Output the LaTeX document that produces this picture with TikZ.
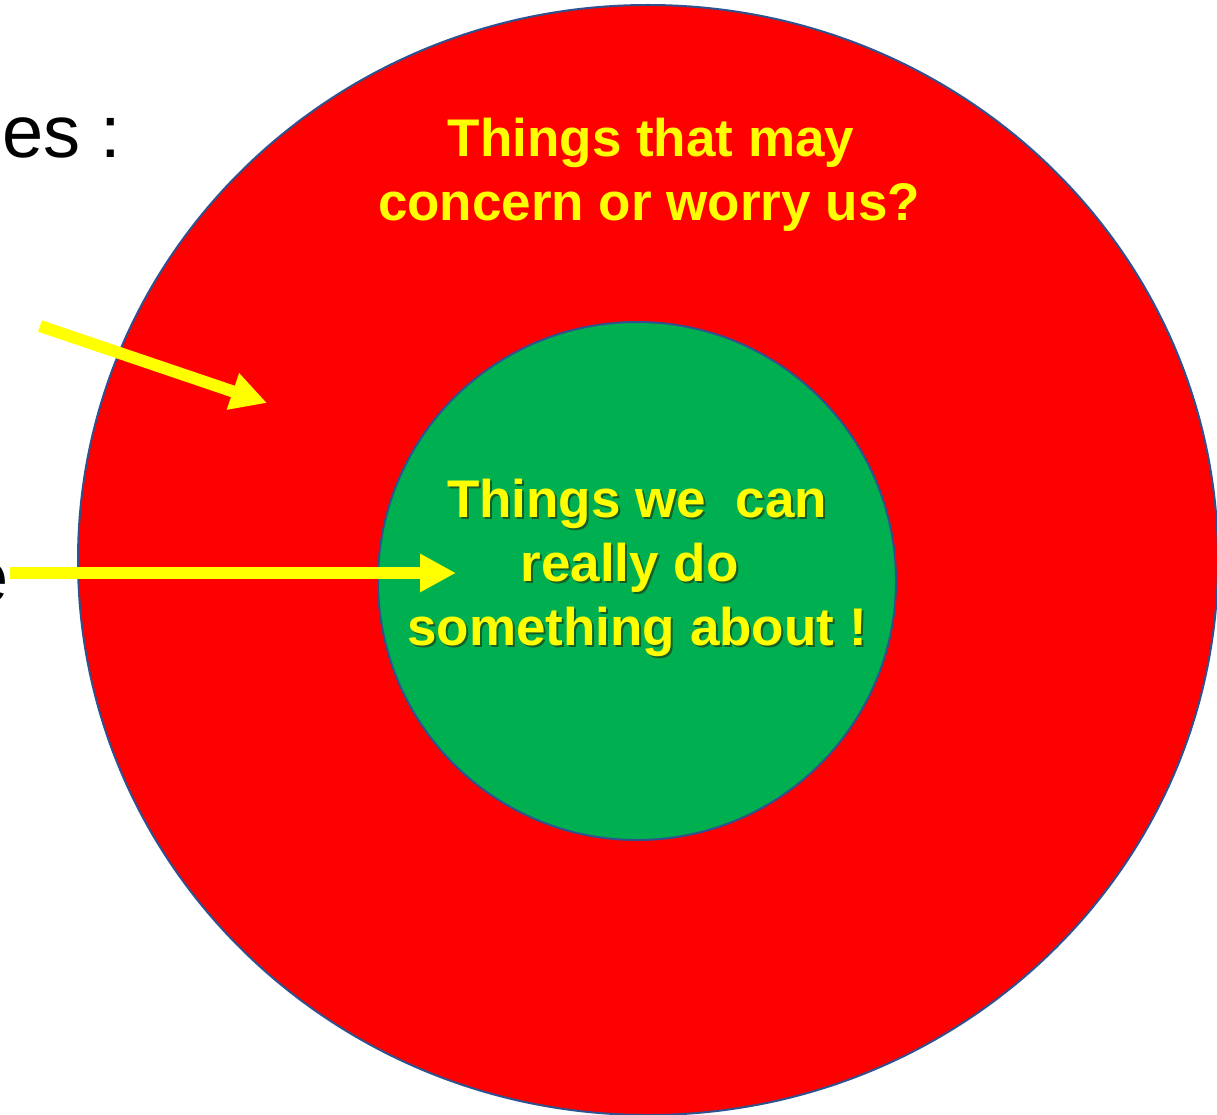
\documentclass[tikz,border=0pt]{standalone}
\usepackage{fontspec}
\setmainfont{Liberation Sans}
\usetikzlibrary{arrows.meta,shapes.geometric}
\definecolor{ringred}{RGB}{255,0,0}
\definecolor{coregreen}{RGB}{0,176,80}
\definecolor{edgeblue}{RGB}{47,82,143}
\definecolor{hiyellow}{RGB}{255,255,0}
\definecolor{shadegreen}{RGB}{20,95,40}
\newcommand\myshadowed[1]{\rlap{\hspace{2pt}\raisebox{-2pt}{\color{shadegreen}#1}}#1}
\begin{document}
\begin{tikzpicture}[x=1pt,y=-1pt,
  zone/.style={draw=edgeblue,line width=2pt,inner sep=0pt},
  bigtext/.style={text=hiyellow,font=\fontsize{53}{64}\selectfont\bfseries,anchor=base,inner sep=0pt},
  pointer/.style={draw=hiyellow,line width=12pt,-{Triangle[length=36pt,width=36pt]}},
  lefttext/.style={text=black,font=\fontsize{74}{88}\selectfont,inner sep=0pt}]
\useasboundingbox (0,0) rectangle (1217,1115);
\clip (0,0) rectangle (1217,1115);
% outer zone
\node[zone,fill=ringred,ellipse,minimum width=1140pt,minimum height=1110pt] (concern) at (648,560) {};
% inner zone
\node[zone,fill=coregreen,circle,minimum size=518pt] (control) at (637,581) {};
% outer labels
\node[bigtext] (c1) at (651,157) {Things that may};
\node[bigtext] (c2) at (649,221) {concern or worry us?};
% inner labels with shadow
\node[bigtext] (i1) at (637,517) {\myshadowed{Things we\ \ can}};
\node[bigtext] (i2) at (637,581) {\myshadowed{really do}\hspace*{0.278em}};
\node[bigtext] (i3) at (637,645) {\myshadowed{something about !}};
% left clipped text
\node[lefttext,anchor=base west] (l1) at (2,158) {es :};
\node[lefttext,anchor=base east] (l2) at (9,602) {e};
% pointers
\coordinate (p1s) at (40,326);
\coordinate (p1e) at (267,403);
\coordinate (p2s) at (10,573);
\coordinate (p2e) at (456,573);
\draw[pointer] (p1s) -- (p1e);
\draw[pointer] (p2s) -- (p2e);
\end{tikzpicture}
\end{document}
